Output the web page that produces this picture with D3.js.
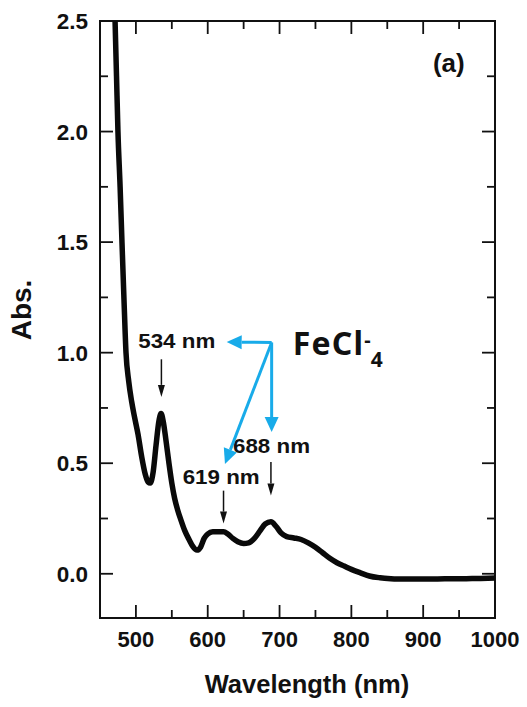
<!DOCTYPE html>
<html>
<head>
<meta charset="utf-8">
<script src="https://cdn.jsdelivr.net/npm/d3@7"></script>
<style>
  body { margin: 0; background: #fff; }
  text { font-family: Arial, "Liberation Sans", sans-serif; font-weight: bold; fill: #111; }
</style>
</head>
<body>
<svg id="chart"></svg>
<script>
// spectrum (nm, absorbance)
const wavelength = [470.5, 473, 475, 478, 480.6, 483.4, 486.2, 490, 494, 498, 503, 508, 513, 517, 520, 524, 528, 532,
  535, 538, 542, 546, 550, 554, 558, 563, 568, 574, 579, 585, 590, 595, 600, 607, 615, 622, 628, 635, 642, 650,
  657, 665, 673, 680, 688, 695, 702, 710, 720, 730, 740, 750, 760, 770, 780, 790, 800, 812, 825, 840, 855, 870,
  900, 930, 960, 980, 1000];
const absorbance = [2.56, 2.25, 2.0, 1.75, 1.5, 1.24, 1.0, 0.87, 0.78, 0.71, 0.63, 0.53, 0.45, 0.415, 0.41, 0.46,
  0.58, 0.69, 0.725, 0.69, 0.60, 0.50, 0.41, 0.34, 0.29, 0.24, 0.195, 0.155, 0.125, 0.107, 0.12, 0.16, 0.18, 0.19,
  0.19, 0.19, 0.18, 0.16, 0.145, 0.137, 0.14, 0.16, 0.195, 0.225, 0.235, 0.215, 0.185, 0.168, 0.162, 0.155, 0.14,
  0.12, 0.095, 0.07, 0.05, 0.035, 0.02, 0.005, -0.01, -0.018, -0.022, -0.024, -0.024, -0.023, -0.022, -0.021,
  -0.019];

const xTicks = [500, 600, 700, 800, 900, 1000];
const xMinor = [550, 650, 750, 850, 950];
const yTicks = [0.0, 0.5, 1.0, 1.5, 2.0, 2.5];
const yMinor = [0.25, 0.75, 1.25, 1.75, 2.25];

// peak labels: text, label start (nm), label baseline (abs), arrow x (nm), arrow from/to (abs)
const peakLabels = ["534 nm", "619 nm", "688 nm"];
const peakLabelX = [503.3, 565.1, 635.2];
const peakLabelY = [1.02, 0.408, 0.544];
const peakArrowX = [535.5, 622, 688];
const peakArrowFrom = [0.97, 0.376, 0.505];
const peakArrowTo = [0.80, 0.227, 0.354];

const W = 527, H = 707;
const margin = { top: 21, right: 32, bottom: 89, left: 100 };

const svg = d3.select("#chart")
  .attr("width", W)
  .attr("height", H);

const x = d3.scaleLinear().domain([450, 1000]).range([margin.left, W - margin.right]);
const y = d3.scaleLinear().domain([-0.2, 2.5]).range([H - margin.bottom, margin.top]);

const x0 = x.range()[0], x1 = x.range()[1];
const y0 = y.range()[0], y1 = y.range()[1];

svg.append("clipPath")
  .attr("id", "plot-clip")
  .append("rect")
  .attr("x", x0).attr("y", y1)
  .attr("width", x1 - x0).attr("height", y0 - y1);

// ticks, all pointing inward
const major = 13, minor = 8;
const tickG = svg.append("g").attr("stroke", "#111").attr("stroke-width", 1.8);

xTicks.concat(xMinor).forEach(v => {
  const len = xTicks.includes(v) ? major : minor;
  tickG.append("line").attr("x1", x(v)).attr("x2", x(v)).attr("y1", y0).attr("y2", y0 - len);
  tickG.append("line").attr("x1", x(v)).attr("x2", x(v)).attr("y1", y1).attr("y2", y1 + len);
});
yTicks.concat(yMinor).forEach(v => {
  const len = yTicks.includes(v) ? major : minor;
  tickG.append("line").attr("x1", x0).attr("x2", x0 + len).attr("y1", y(v)).attr("y2", y(v));
  tickG.append("line").attr("x1", x1).attr("x2", x1 - len).attr("y1", y(v)).attr("y2", y(v));
});

svg.append("rect")
  .attr("x", x0).attr("y", y1)
  .attr("width", x1 - x0).attr("height", y0 - y1)
  .attr("fill", "none")
  .attr("stroke", "#111")
  .attr("stroke-width", 2);

svg.append("g")
  .selectAll("text")
  .data(xTicks)
  .enter()
  .append("text")
  .attr("x", d => x(d))
  .attr("y", y0 + 29)
  .attr("text-anchor", "middle")
  .attr("font-size", 22)
  .text(d => d);

svg.append("g")
  .selectAll("text")
  .data(yTicks)
  .enter()
  .append("text")
  .attr("x", x0 - 12)
  .attr("y", d => y(d))
  .attr("dy", "0.36em")
  .attr("text-anchor", "end")
  .attr("font-size", 22.5)
  .text(d => d.toFixed(1));

svg.append("text")
  .attr("x", 307)
  .attr("y", 693)
  .attr("text-anchor", "middle")
  .attr("font-size", 25.5)
  .text("Wavelength (nm)");

svg.append("text")
  .attr("transform", `translate(31, 310) rotate(-90)`)
  .attr("text-anchor", "middle")
  .attr("font-size", 28)
  .text("Abs.");

svg.append("text")
  .attr("x", x(913.6))
  .attr("y", y(2.27))
  .attr("font-size", 26)
  .text("(a)");

// spectrum
const line = d3.line()
  .x((d, i) => x(wavelength[i]))
  .y(d => y(d))
  .curve(d3.curveMonotoneX);

svg.append("path")
  .datum(absorbance)
  .attr("clip-path", "url(#plot-clip)")
  .attr("d", line)
  .attr("fill", "none")
  .attr("stroke", "#0a0a0a")
  .attr("stroke-width", 5.5)
  .attr("stroke-linejoin", "round")
  .attr("stroke-linecap", "round");

function arrow(xa, ya, xb, yb, color, width, headLen, headW) {
  const ang = Math.atan2(yb - ya, xb - xa);
  const bx = xb - headLen * Math.cos(ang), by = yb - headLen * Math.sin(ang);
  svg.append("line")
    .attr("x1", xa).attr("y1", ya).attr("x2", bx).attr("y2", by)
    .attr("stroke", color).attr("stroke-width", width);
  const px = -Math.sin(ang) * headW / 2, py = Math.cos(ang) * headW / 2;
  svg.append("path")
    .attr("d", `M${xb},${yb}L${bx + px},${by + py}L${bx - px},${by - py}Z`)
    .attr("fill", color);
}

peakLabels.forEach((t, i) => {
  svg.append("text")
    .attr("x", x(peakLabelX[i]))
    .attr("y", y(peakLabelY[i]))
    .attr("font-size", 21)
    .attr("textLength", 77)
    .attr("lengthAdjust", "spacingAndGlyphs")
    .text(t);
  arrow(x(peakArrowX[i]), y(peakArrowFrom[i]), x(peakArrowX[i]), y(peakArrowTo[i]), "#111", 1.5, 12, 7);
});

// FeCl4- pointers
const blue = "#18ABE9";
const hub = [689, 1.046];
arrow(x(hub[0]), y(hub[1]), x(626.4), y(1.048), blue, 3, 15, 14);
arrow(x(hub[0]), y(hub[1]), x(689), y(0.641), blue, 3, 15, 14);
arrow(x(hub[0]), y(hub[1]), x(624), y(0.497), blue, 3, 15, 14);

const fe = svg.append("text")
  .attr("x", x(718.3))
  .attr("y", y(0.988))
  .style("font-family", "'Noto Sans', 'Noto Sans CJK KR', sans-serif")
  .attr("font-size", 32);
fe.append("tspan").attr("letter-spacing", 1.2).text("FeCl");
fe.append("tspan").attr("font-size", 20).attr("dy", -8).text("-");
fe.append("tspan").attr("font-size", 21).attr("dy", 20).text("4");
</script>
</body>
</html>
